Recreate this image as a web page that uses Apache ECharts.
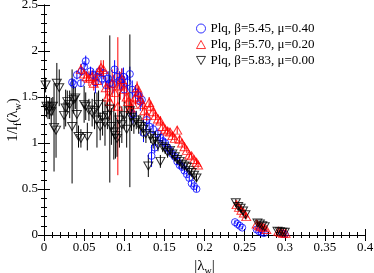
<!DOCTYPE html>
<html><head><meta charset="utf-8">
<script src="https://cdn.jsdelivr.net/npm/echarts@6/dist/echarts.min.js"></script>
<style>html,body{margin:0;padding:0;background:#fff}#c{width:374px;height:273px}</style>
</head><body><div id="c"></div>
<script>
// Series 1: Plq, beta=5.45, mu=0.40 (blue circles)
const blueX = [0.035,0.037,0.041,0.046,0.047,0.050,0.052,0.058,0.061,0.064,0.066,0.069,0.072,0.074,0.077,0.080,0.082,0.086,0.088,0.091,0.094,0.097,0.099,0.100,0.104,0.107,0.110,0.111,0.114,0.117,0.120,0.122,0.124,0.128,0.131,0.134,0.136,0.138,0.142,0.145,0.148,0.151,0.154,0.157,0.160,0.163,0.166,0.169,0.172,0.175,0.178,0.181,0.184,0.187,0.190,0.238,0.241,0.244,0.247,0.265,0.268,0.271,0.274,0.297,0.300];
const blueY = [1.66,1.64,1.74,1.65,1.78,1.83,1.89,1.78,1.74,1.66,1.72,1.78,1.70,1.76,1.63,1.70,1.65,1.64,1.80,1.72,1.68,1.69,1.72,1.58,1.66,1.75,1.58,1.31,1.55,1.52,1.45,1.47,1.11,1.25,1.18,0.86,1.15,0.95,1.10,1.06,1.02,1.00,0.95,0.92,0.88,0.85,0.80,0.76,0.74,0.70,0.66,0.62,0.56,0.53,0.50,0.14,0.12,0.10,0.08,0.06,0.04,0.03,0.02,0.015,0.01];
const blueErr = [0.04,0.05,0.05,0.04,0.05,0.06,0.06,0.05,0.06,0.12,0.05,0.06,0.06,0.07,0.08,0.08,0.09,0.10,0.10,0.10,0.10,0.12,0.10,0.10,0.08,0.08,0.10,0.10,0.08,0.08,0.10,0.08,0.10,0.08,0.08,0.12,0.06,0.06,0.06,0.05,0.05,0.05,0.04,0.04,0.04,0.04,0.04,0.04,0.04,0.03,0.03,0.03,0.03,0.03,0.03,0.02,0.02,0.02,0.02,0.02,0.02,0.02,0.02,0.01,0.01];

// Series 2: Plq, beta=5.70, mu=0.20 (red triangles)
const redX = [0.046,0.050,0.053,0.056,0.060,0.062,0.066,0.069,0.071,0.074,0.077,0.079,0.082,0.085,0.088,0.092,0.095,0.097,0.100,0.103,0.105,0.108,0.111,0.114,0.116,0.118,0.120,0.123,0.125,0.128,0.131,0.133,0.136,0.139,0.142,0.145,0.148,0.151,0.154,0.157,0.160,0.163,0.166,0.169,0.172,0.175,0.178,0.181,0.184,0.187,0.190,0.192,0.240,0.243,0.246,0.249,0.252,0.265,0.268,0.271,0.274,0.277,0.292,0.295,0.298,0.301];
const redY = [1.80,1.75,1.72,1.70,1.72,1.65,1.68,1.78,1.82,1.80,1.60,1.50,1.45,1.65,1.55,1.40,1.62,1.69,1.58,1.50,1.45,1.38,1.42,1.50,1.60,1.55,1.47,1.42,1.35,1.30,1.44,1.40,1.34,1.30,1.26,1.24,1.18,1.15,1.13,1.12,1.08,1.05,1.14,1.04,1.00,0.96,0.92,0.87,0.86,0.82,0.79,0.76,0.33,0.30,0.27,0.24,0.20,0.12,0.10,0.09,0.08,0.06,0.04,0.03,0.02,0.02];
const redErr = [0.06,0.05,0.06,0.08,0.07,0.08,0.07,0.06,0.08,0.10,0.12,0.15,0.20,0.15,0.20,0.75,0.15,0.12,0.15,0.15,0.10,0.10,0.08,0.08,0.07,0.07,0.07,0.07,0.06,0.06,0.06,0.06,0.05,0.05,0.05,0.05,0.05,0.04,0.04,0.04,0.04,0.04,0.04,0.04,0.04,0.03,0.03,0.03,0.03,0.03,0.03,0.03,0.03,0.03,0.03,0.03,0.03,0.02,0.02,0.02,0.02,0.02,0.01,0.01,0.01,0.01];

// Series 3: Plq, beta=5.83, mu=0.00 (black down-triangles)
const blackX = [0.002,0.003,0.005,0.007,0.009,0.011,0.0125,0.015,0.016,0.019,0.025,0.027,0.029,0.032,0.035,0.037,0.039,0.041,0.043,0.046,0.050,0.052,0.054,0.056,0.060,0.063,0.066,0.068,0.070,0.073,0.076,0.079,0.082,0.084,0.087,0.089,0.091,0.094,0.097,0.100,0.103,0.107,0.109,0.112,0.115,0.118,0.121,0.124,0.127,0.130,0.133,0.136,0.139,0.142,0.145,0.148,0.151,0.154,0.157,0.160,0.163,0.166,0.169,0.172,0.175,0.178,0.181,0.184,0.187,0.190,0.239,0.242,0.245,0.248,0.251,0.266,0.269,0.272,0.275,0.291,0.294,0.297,0.300];
const blackY = [1.63,1.40,1.36,1.38,1.34,1.40,1.17,1.14,1.65,1.60,1.30,1.38,1.45,1.42,1.18,1.47,1.49,1.31,1.07,1.05,1.42,1.40,1.07,1.36,1.33,1.35,1.25,1.42,1.18,1.28,1.22,1.30,1.37,1.18,1.12,1.08,1.05,1.25,1.20,1.30,1.15,1.35,1.28,1.22,1.25,1.20,1.18,1.15,1.10,0.75,1.08,1.02,1.05,0.98,0.80,0.96,0.94,0.90,0.92,0.88,0.85,0.82,0.80,0.77,0.75,0.74,0.70,0.68,0.65,0.62,0.35,0.31,0.29,0.26,0.22,0.13,0.12,0.10,0.09,0.04,0.035,0.03,0.03];
const blackErr = [0.08,0.12,0.10,0.12,0.15,0.10,0.48,0.30,0.22,0.20,0.15,0.20,0.12,0.15,0.62,0.15,0.12,0.20,0.12,0.10,0.20,0.15,0.15,0.12,0.15,0.20,0.30,0.15,0.15,0.20,0.25,0.15,0.80,0.20,0.30,0.25,0.20,0.30,0.20,0.15,0.20,0.83,0.15,0.12,0.10,0.10,0.10,0.10,0.10,0.12,0.08,0.08,0.08,0.07,0.07,0.06,0.06,0.06,0.05,0.05,0.05,0.05,0.05,0.05,0.04,0.04,0.04,0.04,0.04,0.04,0.04,0.04,0.04,0.04,0.04,0.03,0.03,0.03,0.03,0.02,0.02,0.02,0.02];

const legendNames = ['Plq, β=5.45, μ=0.40','Plq, β=5.70, μ=0.20','Plq, β=5.83, μ=0.00'];
const xTicks = [0,0.05,0.1,0.15,0.2,0.25,0.3,0.35,0.4];
const yTicks = [0,0.5,1,1.5,2,2.5];
const yTitle = '{a|1/l}{s|f}{a|(λ}{s|w}{a|)}';
const xTitle = '{a||λ}{s|w}{a||}';

const FONT = 'Liberation Serif';
const zip = (xs, ys, es) => xs.map((x,i)=>[x, ys[i], es[i]]);
const dataBlue = zip(blueX, blueY, blueErr);
const dataRed = zip(redX, redY, redErr);
const dataBlack = zip(blackX, blackY, blackErr);

const richTitle = {
  a: {fontFamily: FONT, fontSize: 15, color: '#000'},
  s: {fontFamily: FONT, fontSize: 10, color: '#000', verticalAlign: 'bottom', padding: [10,0,0,0]}
};

function errSeries(data, color) {
  return {
    type: 'custom', data: data, silent: true, z: 1, clip: true,
    encode: {x: 0, y: [1]},
    renderItem: function (params, api) {
      const x = api.value(0), y = api.value(1), e = api.value(2);
      const p1 = api.coord([x, y - e]);
      const p2 = api.coord([x, y + e]);
      return {type: 'line', shape: {x1: p1[0], y1: p1[1], x2: p2[0], y2: p2[1]},
        style: {stroke: color, lineWidth: 1}};
    }
  };
}

const downTri = 'path://M0,0 L10,0 L5,9 Z';
const upTri = 'path://M5,0 L10,9 L0,9 Z';

const axisCommon = {
  axisLine: {show: true, lineStyle: {color: '#000', width: 1}},
  axisTick: {show: true, inside: true, length: 6, lineStyle: {color: '#000'}},
  minorTick: {show: true, splitNumber: 5, length: 3, lineStyle: {color: '#000'}},
  splitLine: {show: false}
};

const chart = echarts.init(document.getElementById('c'));
chart.setOption({
  animation: false,
  backgroundColor: '#fff',
  grid: {left: 44, right: 9, top: 5, bottom: 38, containLabel: false, outerBoundsMode: 'none'},
  graphic: [{
    type: 'text', x: 13, y: 120, rotation: Math.PI / 2,
    style: {text: yTitle, rich: richTitle, align: 'center', verticalAlign: 'middle'}
  }],
  legend: {
    orient: 'vertical', left: 191, top: 17, itemGap: 3,
    itemWidth: 9, itemHeight: 9,
    textStyle: {fontFamily: FONT, fontSize: 13, color: '#000'},
    data: [
      {name: legendNames[0], icon: 'circle', itemStyle: {color: 'transparent', borderColor: '#0000ff', borderWidth: 1}},
      {name: legendNames[1], icon: upTri, itemStyle: {color: 'transparent', borderColor: '#ff0000', borderWidth: 1}},
      {name: legendNames[2], icon: downTri, itemStyle: {color: 'transparent', borderColor: '#000', borderWidth: 1}}
    ]
  },
  xAxis: [
    Object.assign({
      type: 'value', min: xTicks[0], max: xTicks[xTicks.length-1], interval: 0.05,
      name: xTitle, nameLocation: 'middle', nameGap: 20,
      nameTextStyle: {rich: richTitle},
      axisLabel: {fontFamily: FONT, fontSize: 13, color: '#000', margin: 6,
        formatter: v => String(+v.toFixed(2))}
    }, axisCommon),
    Object.assign({type: 'value', position: 'top', min: 0, max: 0.4, interval: 0.05,
      axisLabel: {show: false}}, axisCommon)
  ],
  yAxis: [
    Object.assign({
      type: 'value', min: yTicks[0], max: yTicks[yTicks.length-1], interval: 0.5,
      axisLabel: {fontFamily: FONT, fontSize: 13, color: '#000', margin: 6,
        formatter: v => String(+v.toFixed(1))}
    }, axisCommon),
    Object.assign({type: 'value', position: 'right', min: 0, max: 2.5, interval: 0.5,
      axisLabel: {show: false}}, axisCommon)
  ],
  series: [
    errSeries(dataBlue, '#0000ff'),
    errSeries(dataRed, '#ff0000'),
    errSeries(dataBlack, '#000000'),
    {name: legendNames[0], type: 'scatter', data: dataBlue, symbol: 'circle', symbolSize: 7, z: 3,
      itemStyle: {color: 'transparent', borderColor: '#0000ff', borderWidth: 1}},
    {name: legendNames[1], type: 'scatter', data: dataRed, symbol: upTri, symbolSize: [9,8], z: 3,
      itemStyle: {color: 'transparent', borderColor: '#ff0000', borderWidth: 1}},
    {name: legendNames[2], type: 'scatter', data: dataBlack, symbol: downTri, symbolSize: [9,8], z: 3,
      itemStyle: {color: 'transparent', borderColor: '#000000', borderWidth: 1}}
  ]
});
</script></body></html>
